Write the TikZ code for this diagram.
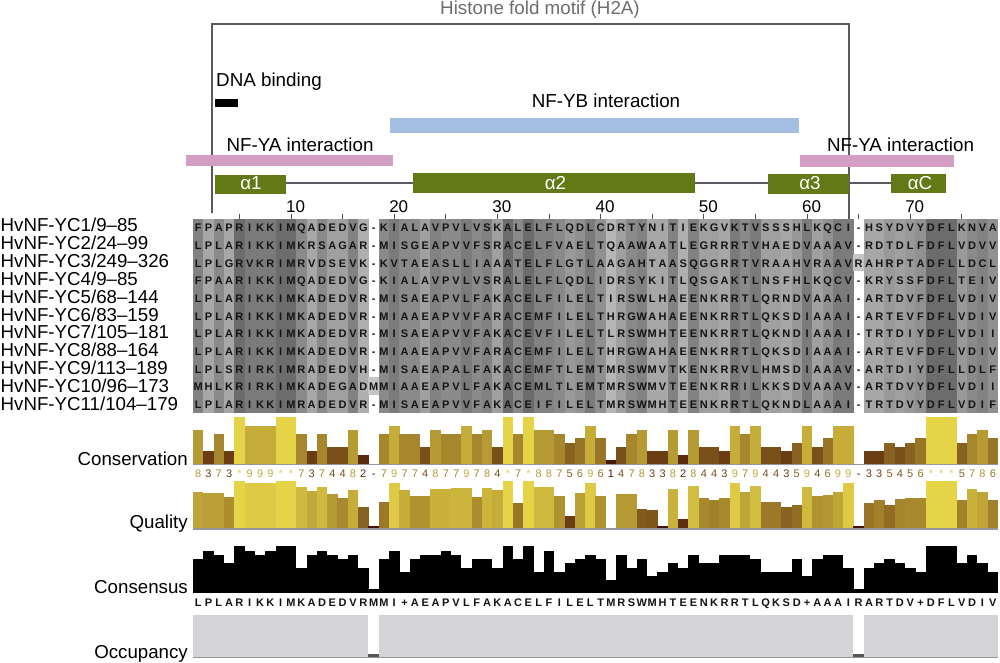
\documentclass[tikz,border=0pt]{standalone}
\usepackage{fontspec}
\setmainfont{Liberation Sans}
\definecolor{cmin}{RGB}{60,5,0}
\definecolor{cmax}{RGB}{230,212,72}
\definecolor{helixgreen}{RGB}{97,122,22}
\definecolor{brk}{RGB}{92,88,98}
\definecolor{ybcol}{RGB}{163,189,227}
\definecolor{yacol}{RGB}{211,157,196}
\definecolor{occcol}{RGB}{212,212,215}
\definecolor{restext}{RGB}{20,20,20}
\definecolor{headgray}{RGB}{110,110,110}
\definecolor{basegray}{RGB}{150,150,156}
\definecolor{tickgray}{RGB}{80,80,80}
\definecolor{cellgap}{RGB}{196,196,196}
\definecolor{occdark}{RGB}{85,85,90}

\makeatletter
\newcommand\seqrow[4]{%
  \def\seqcol{0}%
  \@tfor\seqch:=#4\do{%
    \pgfmathtruncatemacro\seqcol{\seqcol+1}%
    \node[#3] (#1c\seqcol) at ({193+(\seqcol-0.5)*10.32},#2) {\seqch};%
  }%
}
\makeatother

\def\conslist{8,3,7,3,11,9,9,9,11,11,7,3,7,4,4,8,2,-1,7,9,7,7,4,8,7,7,9,7,8,4,11,7,11,8,8,7,5,6,9,6,1,4,7,8,3,3,8,2,8,4,4,3,9,7,9,4,4,3,5,9,4,6,9,9,-1,3,3,5,4,5,6,11,11,11,5,7,8,6}
\def\quallist{37,36,36,32,48,46,46,46,48,48,42,38,42,35,31,39,22,3,27,46,39,33,33,40,40,41,41,32,41,39,48,26,48,42,42,33,13,36,46,33,0,35,35,20,19,3,40,10,43,31,29,31,46,37,43,27,27,22,24,42,33,34,37,46,3,26,29,24,30,31,31,48,48,48,29,40,37,29}
\def\cnslist{8,10,9,7,11,10,9,10,11,11,6,9,10,9,8,9,6,1,8,10,5,8,9,9,10,9,6,8,8,6,11,8,11,5,10,5,7,8,9,8,3,9,6,8,4,5,7,6,9,7,7,9,9,9,8,5,5,5,8,4,8,9,9,6,1,6,7,8,7,6,5,11,11,11,7,9,7,5}

\tikzset{
  res/.style={font=\fontsize{11}{12}\selectfont\bfseries, text=restext, inner sep=0pt, anchor=base},
  lbl/.style={font=\fontsize{18.8}{22}\selectfont, inner sep=0pt, anchor=base},
  namelbl/.style={font=\fontsize{18.7}{22}\selectfont, inner sep=0pt, anchor=base west},
  annlbl/.style={font=\fontsize{18.7}{22}\selectfont, inner sep=0pt, anchor=base east},
  rulernum/.style={font=\fontsize{17}{20}\selectfont, inner sep=0pt, anchor=base west},
  dig/.style={font=\fontsize{11}{12}\selectfont, inner sep=0pt, anchor=base},
  bar/.style={inner sep=0pt, outer sep=0pt, draw=none},
  helixbox/.style={bar, fill=helixgreen},
  helixlbl/.style={font=\fontsize{18.8}{22}\selectfont, text=white, inner sep=0pt, anchor=base},
}

\begin{document}
\begin{tikzpicture}[x=1pt,y=-1pt]
\useasboundingbox (0,0) rectangle (1000,663);
\fill[white] (0,0) rectangle (1000,663);

% ---------- top annotation ----------
\node[lbl, text=headgray] (hfm) at (540,14.5) {Histone fold motif (H2A)};
\coordinate (bl) at (212,213);
\coordinate (tl) at (212,24);
\coordinate (tr) at (849,24);
\coordinate (br) at (849,219);
\draw[brk, line width=2.7pt, line join=miter] (bl) -- (tl) -- (tr) -- (br);

\coordinate (hl) at (286,183);
\coordinate (hr) at (891,183);
\draw[brk, line width=2.7pt] (hl) -- (hr);

\node[lbl, anchor=base west] (dna) at (216,87) {DNA binding};
\node[bar, fill=black, minimum width=23pt, minimum height=8pt] (dnabar) at (226.5,103) {};

\node[bar, fill=ybcol, minimum width=409pt, minimum height=15pt] (ybbar) at (594.5,125.5) {};
\node[lbl] (ybt) at (606,108) {NF-YB interaction};

\node[bar, fill=yacol, minimum width=207pt, minimum height=11pt] (yal) at (289.5,160.5) {};
\node[lbl] (yalt) at (300,151.5) {NF-YA interaction};
\node[bar, fill=yacol, minimum width=154pt, minimum height=12pt] (yar) at (877,161) {};
\node[lbl] (yart) at (900.5,151.5) {NF-YA interaction};

\node[helixbox, minimum width=71pt, minimum height=19pt] (a1) at (250.5,184.5) {};
\node[helixbox, minimum width=282pt, minimum height=20pt] (a2) at (554,183) {};
\node[helixbox, minimum width=81pt, minimum height=20pt] (a3) at (808.5,184) {};
\node[helixbox, minimum width=55pt, minimum height=19pt] (aC) at (918.5,183.5) {};
\node[helixlbl] (a1t) at (251,189.5) {α1};
\node[helixlbl] (a2t) at (555.5,189.5) {α2};
\node[helixlbl] (a3t) at (810,189.5) {α3};
\node[helixlbl] (aCt) at (920,189.5) {αC};

% ---------- ruler ----------
\foreach \k in {1,...,15} {
  \draw[tickgray, line width=0.9pt] ({193+(5*\k-0.5)*10.32},213.5) -- ++(0,5);
}
\foreach \k in {1,...,7} {
  \node[rulernum] (ru\k) at ({193+(10*\k-1)*10.32},212) {\the\numexpr 10*\k\relax};
}

% ---------- alignment background ----------
\foreach \v [count=\i] in \conslist {
  \ifnum\v<0\relax\else
    \pgfmathtruncatemacro\g{190-7.4*\v}
    \definecolor{cg}{RGB}{\g,\g,\g}
    \fill[cg] ({193+(\i-1)*10.32},218.5) rectangle ++(10.42,194.1);
  \fi
}
\fill[cellgap] ({193+17*10.32},{218.5+9*17.65}) rectangle ++(10.32,17.65);
\fill[cellgap] ({193+64*10.32},{218.5+2*17.65}) rectangle ++(10.32,17.65);

% ---------- sequences ----------
\seqrow{s1}{231.9}{res}{FPAPRIKKIMQADEDVG-KIALAVPVLVSKALELFLQDLCDRTYNITIEKGVKTVSSSHLKQCI-HSYDVYDFLKNVA}
\seqrow{s2}{249.55}{res}{LPLARIKKIMKRSAGAR-MISGEAPVVFSRACELFVAELTQAAWAATLEGRRRTVHAEDVAAAV-RDTDLFDFLVDVV}
\seqrow{s3}{267.2}{res}{LPLGRVKRIMRVDSEVK-KVTAEASLLIAAATELFLGTLAAGAHTAASQGGRRTVRAAHVRAAVRAHRPTADFLLDCL}
\seqrow{s4}{284.85}{res}{FPAARIKKIMQADEDVG-KIALAVPVLVSRALELFLQDLIDRSYKITLQSGAKTLNSFHLKQCV-KRYSSFDFLTEIV}
\seqrow{s5}{302.5}{res}{LPLARIKKIMKADEDVR-MISAEAPVLFAKACELFILELTIRSWLHAEENKRRTLQRNDVAAAI-ARTDVFDFLVDIV}
\seqrow{s6}{320.15}{res}{LPLARIKKIMKADEDVR-MIAAEAPVVFARACEMFILELTHRGWAHAEENKRRTLQKSDIAAAI-ARTEVFDFLVDIV}
\seqrow{s7}{337.8}{res}{LPLARIKKIMKADEDVR-MISAEAPVVFAKACEVFILELTLRSWMHTEENKRRTLQKNDIAAAI-TRTDIYDFLVDII}
\seqrow{s8}{355.45}{res}{LPLARIKKIMKADEDVR-MIAAEAPVVFARACEMFILELTHRGWAHAEENKRRTLQKSDIAAAI-ARTEVFDFLVDIV}
\seqrow{s9}{373.1}{res}{LPLSRIRKIMRADEDVH-MISAEAPALFAKACEMFTLEMTMRSWMVTKENKRRVLHMSDIAAAV-ARTDIYDFLLDLF}
\seqrow{s10}{390.75}{res}{MHLKRIRKIMKADEGADMMIAAEAPVLFAKACEMLTLEMTMRSWMVTEENKRRILKKSDVAAAV-ARTDVYDFLVDII}
\seqrow{s11}{408.4}{res}{LPLARIKKIMRADEDVR-MISAEAPVVFAKACEIFILELTMRSWMHTEENKRRTLQKNDLAAAI-TRTDVYDFLVDIF}

\node[namelbl] (n1) at (0.5,231.5) {HvNF-YC1/9–85};
\node[namelbl] (n2) at (0.5,249.4) {HvNF-YC2/24–99};
\node[namelbl] (n3) at (0.5,267.3) {HvNF-YC3/249–326};
\node[namelbl] (n4) at (0.5,285.2) {HvNF-YC4/9–85};
\node[namelbl] (n5) at (0.5,303.1) {HvNF-YC5/68–144};
\node[namelbl] (n6) at (0.5,321.0) {HvNF-YC6/83–159};
\node[namelbl] (n7) at (0.5,338.9) {HvNF-YC7/105–181};
\node[namelbl] (n8) at (0.5,356.8) {HvNF-YC8/88–164};
\node[namelbl] (n9) at (0.5,374.7) {HvNF-YC9/113–189};
\node[namelbl] (n10) at (0.5,392.6) {HvNF-YC10/96–173};
\node[namelbl] (n11) at (0.5,410.5) {HvNF-YC11/104–179};

% ---------- conservation ----------
\foreach \v [count=\i] in \conslist {
  \ifnum\v>0\relax
    \pgfmathtruncatemacro\pp{100*\v/11}
    \colorlet{bc}{cmax!\pp!cmin}
    \fill[bc] ({193+(\i-1)*10.32},464) rectangle ++(10.42,{-47*\v/11});
  \fi
}
\draw[basegray, line width=1.3pt] (193,464.3) -- (998,464.3);
\foreach \v [count=\i] in \conslist {
  \ifnum\v<0\relax
    \node[dig, text=restext] (cd\i) at ({193+(\i-0.5)*10.32},477) {-};
  \else
    \pgfmathtruncatemacro\pp{100*\v/11}
    \colorlet{bc}{cmax!\pp!cmin}
    \ifnum\v=11\relax\def\digtxt{*}\else\edef\digtxt{\v}\fi
    \node[dig, text=bc] (cd\i) at ({193+(\i-0.5)*10.32},477) {\digtxt};
  \fi
}
\node[annlbl] (lcons) at (188,465) {Conservation};

% ---------- quality ----------
\foreach \h [count=\i] in \quallist {
  \ifnum\h>0\relax
    \pgfmathtruncatemacro\pp{100*\h/48}
    \colorlet{bc}{cmax!\pp!cmin}
    \fill[bc] ({193+(\i-1)*10.32},528.7) rectangle ++(10.42,{-\h});
  \fi
}
\draw[basegray, line width=1.3pt] (193,529) -- (998,529);
\node[annlbl] (lqual) at (188,528) {Quality};

% ---------- consensus ----------
\foreach \c [count=\i] in \cnslist {
  \fill[black] ({193+(\i-1)*10.32},593.3) rectangle ++(10.42,{-47*\c/11});
}
\seqrow{cs}{606.7}{res}{LPLARIKKIMKADEDVRMMI+AEAPVLFAKACELFILELTMRSWMHTEENKRRTLQKSD+AAAIRARTDV+DFLVDIV}
\node[annlbl] (lcnsn) at (188,593) {Consensus};

% ---------- occupancy ----------
\fill[occcol] (193,615) rectangle ({193+17*10.32},657);
\fill[occcol] ({193+18*10.32},615) rectangle ({193+64*10.32},657);
\fill[occcol] ({193+65*10.32},615) rectangle (998,657);
\fill[occdark] ({193+17*10.32},653.5) rectangle ++(10.32,3.5);
\fill[occdark] ({193+64*10.32},653.5) rectangle ++(10.32,3.5);
\draw[basegray, line width=1.3pt] (193,657.3) -- (998,657.3);
\node[annlbl] (locc) at (188,658) {Occupancy};
\end{tikzpicture}
\end{document}
